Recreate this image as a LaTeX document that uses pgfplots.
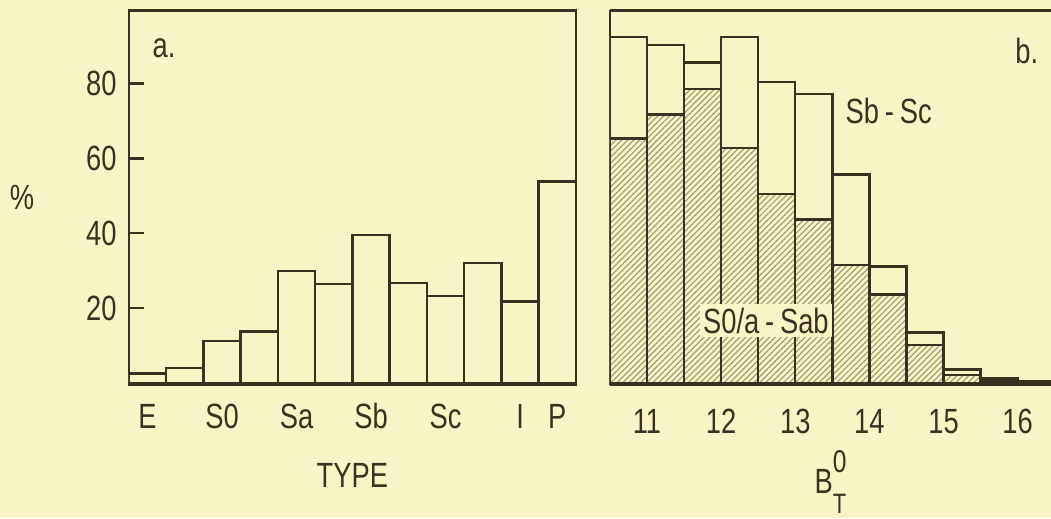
\documentclass[border=0pt]{standalone}
\usepackage{fontspec}
\setmainfont{Liberation Sans}[FakeStretch=0.78]
\usepackage{pgfplots}
\pgfplotsset{compat=1.18}
\usetikzlibrary{patterns.meta}
\definecolor{bg}{HTML}{F9F4C6}
\definecolor{ink}{HTML}{3B3120}
\definecolor{hatch}{HTML}{A39D78}

\pgfplotsset{
  panel/.style={
    scale only axis,
    height=107pt,
    ymin=-0.5, ymax=99.5,
    axis line style={draw=ink, line width=0.8pt},
    tick style={draw=ink, line width=0.7pt},
    major tick length=4.3pt,
    xtick style={draw=none},
    ytick pos=left,
    /pgf/number format/assume math mode=true,
    ticklabel style={text=ink},
    xticklabel style={anchor=base, yshift=-12.3pt},
    every axis x label/.style={at={(axis description cs:0.5,0)}, anchor=base, text=ink},
    every axis y label/.style={at={(axis description cs:0,0.5)}, anchor=center, text=ink},
  },
  bars/.style={ybar, bar shift=0pt, draw=ink, line width=0.7pt},
}

\begin{document}
\begin{tikzpicture}
\fill[bg] (0,0) rectangle (300pt,147.88pt);

% panel a: morphological type
\begin{axis}[panel,
  at={(36.8pt,37.97pt)}, anchor=south west,
  width=127.6pt,
  xmin=0.5, xmax=12.5,
  xtick={1,3,5,7,9,11,12},
  xticklabels={E,S0,Sa,Sb,Sc,I,P},
  ytick={20,40,60,80},
  xlabel={TYPE},
  xlabel style={yshift=-29.1pt},
  ylabel={\%},
  ylabel style={xshift=-30.5pt},
]
\addplot[bars, bar width=1, fill=bg] coordinates {
  (1,2.6) (2,4.0) (3,11.3) (4,13.8) (5,30.0) (6,26.4)
  (7,39.6) (8,26.7) (9,23.3) (10,32.0) (11,21.8) (12,53.8)};
\node[anchor=base west, inner sep=0, text=ink] at (axis cs:1.12,87) {a.};
\end{axis}

% panel b: magnitude
\begin{axis}[panel,
  at={(174.1pt,37.97pt)}, anchor=south west,
  width=125.9pt,
  axis y line*=left,
  xmin=10.5, xmax=16.45,
  xtick={11,12,13,14,15,16},
  ytick=\empty,
  xticklabel style={yshift=-1.5pt},
  xlabel={B\rlap{\raisebox{5.9pt}{\small 0}}\raisebox{-5.6pt}{\footnotesize T}},
  xlabel style={yshift=-31pt},
]
\addplot[bars, bar width=0.5, fill=bg] coordinates {
  (10.75,92.4) (11.25,90.2) (11.75,85.5) (12.25,92.4) (12.75,80.3) (13.25,77.1)
  (13.75,55.7) (14.25,31.1) (14.75,13.5) (15.25,3.6) (15.75,1.3) (16.25,0.4)};
\addplot[bars, bar width=0.5, fill=bg,
  postaction={pattern={Lines[angle=45, distance=1.2pt, line width=0.35pt]}, pattern color=hatch}]
  coordinates {
  (10.75,65.3) (11.25,71.7) (11.75,78.5) (12.25,62.7) (12.75,50.5) (13.25,43.7)
  (13.75,31.6) (14.25,23.6) (14.75,10.2) (15.25,2.2) (15.75,0.5)};
\node[anchor=base west, inner sep=0, text=ink] at (axis cs:15.96,85.3) {b.};
\node[anchor=base west, inner sep=0, text=ink] at (axis cs:13.67,69.3) {Sb\,-\,Sc};
\node[anchor=base west, inner sep=1pt, fill=bg, text=ink] at (axis cs:11.70,13.3) {S0/a\,-\,Sab};
\end{axis}

\pgfresetboundingbox
\path[use as bounding box] (0,0) rectangle (300pt,147.88pt);
\end{tikzpicture}
\end{document}
